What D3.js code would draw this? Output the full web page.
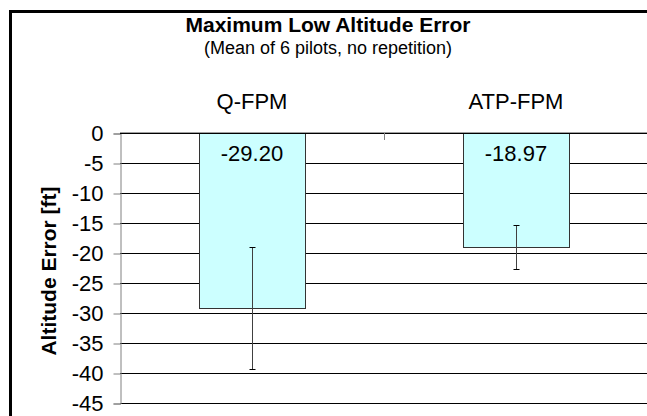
<!DOCTYPE html>
<html>
<head>
<meta charset="utf-8">
<script src="https://cdn.jsdelivr.net/npm/d3@7"></script>
<style>
  html, body { margin: 0; padding: 0; background: #fff; }
  svg { display: block; font-family: Arial, "Liberation Sans", sans-serif; }
</style>
</head>
<body>
<svg id="chart" width="647" height="416"></svg>
<script>
const categories = ["Q-FPM", "ATP-FPM"];
const means = [-29.20, -18.97];
const errors = [10.2, 3.65];
const yTicks = [0, -5, -10, -15, -20, -25, -30, -35, -40, -45];
const titleText = "Maximum Low Altitude Error";
const subtitleText = "(Mean of 6 pilots, no repetition)";
const yAxisTitle = "Altitude Error [ft]";

const svg = d3.select("#chart");
const W = 647, H = 416;
const plot = { left: 120, right: 648, top: 133, bottom: 403 };

const y = d3.scaleLinear().domain([-45, 0]).range([plot.bottom, plot.top]);
const x = d3.scaleBand().domain(categories).range([plot.left, plot.right])
  .paddingInner(0.6).paddingOuter(0.3);
const xc = d3.scalePoint().domain(categories).range([plot.left, plot.right]).padding(0.5);

// outer border (left + top visible)
svg.append("rect").attr("x", 10.5).attr("y", 11.5)
  .attr("width", W + 20).attr("height", H + 20)
  .attr("fill", "#fff").attr("stroke", "#000").attr("stroke-width", 3);

// title
svg.append("text").attr("x", 328).attr("y", 32).attr("text-anchor", "middle")
  .attr("font-size", 21).attr("font-weight", "bold").attr("fill", "#000").text(titleText);
svg.append("text").attr("x", 328).attr("y", 54).attr("text-anchor", "middle")
  .attr("font-size", 18).attr("fill", "#000").text(subtitleText);

// gridlines
svg.append("g").selectAll("line").data(yTicks.filter(d => d !== 0)).join("line")
  .attr("x1", plot.left).attr("x2", plot.right)
  .attr("y1", d => Math.round(y(d)) + 0.5).attr("y2", d => Math.round(y(d)) + 0.5)
  .attr("stroke", "#000").attr("stroke-width", 1);

// y axis
const yAxis = d3.axisLeft(y).tickValues(yTicks).tickSize(7).tickPadding(10).tickFormat(d => String(d));
const gy = svg.append("g").attr("transform", `translate(${plot.left + 0.5},0.5)`).call(yAxis);
gy.select(".domain").attr("stroke", "#808080");
gy.selectAll(".tick line").attr("stroke", "#808080");
gy.selectAll(".tick text").attr("font-size", 22).attr("fill", "#000")
  .attr("font-family", "Arial, 'Liberation Sans', sans-serif");

// bars
svg.append("g").selectAll("rect").data(categories).join("rect")
  .attr("x", d => Math.round(x(d)) + 0.5)
  .attr("y", y(0) + 0.5)
  .attr("width", Math.round(x.bandwidth()))
  .attr("height", (d, i) => Math.round(y(means[i]) - y(0)))
  .attr("fill", "#CCFFFF").attr("stroke", "#333333").attr("stroke-width", 1);

// zero line (category axis on top)
svg.append("line").attr("x1", plot.left).attr("x2", plot.right)
  .attr("y1", y(0) - 0.5).attr("y2", y(0) - 0.5).attr("stroke", "#a0a0a0");
svg.append("line").attr("x1", plot.left).attr("x2", plot.right)
  .attr("y1", y(0) + 0.5).attr("y2", y(0) + 0.5).attr("stroke", "#000");
// category separator tick
svg.append("line").attr("x1", (xc(categories[0]) + xc(categories[1])) / 2 + 0.5)
  .attr("x2", (xc(categories[0]) + xc(categories[1])) / 2 + 0.5)
  .attr("y1", y(0)).attr("y2", y(0) + 7).attr("stroke", "#808080").attr("stroke-width", 1);

// category labels
svg.append("g").selectAll("text").data(categories).join("text")
  .attr("x", d => xc(d)).attr("y", 109).attr("text-anchor", "middle")
  .attr("font-size", 22).attr("fill", "#000").text(d => d);

// value labels
svg.append("g").selectAll("text").data(categories).join("text")
  .attr("x", d => xc(d)).attr("y", 161).attr("text-anchor", "middle")
  .attr("font-size", 22).attr("fill", "#000").text((d, i) => means[i].toFixed(2));

// error bars
const eb = svg.append("g").attr("stroke", "#404040").attr("stroke-width", 1);
categories.forEach((c, i) => {
  const cx = Math.round(xc(c)) + 0.5;
  const yt = Math.round(y(means[i] + errors[i])) + 0.5;
  const yb = Math.round(y(means[i] - errors[i])) + 0.5;
  eb.append("line").attr("x1", cx).attr("x2", cx).attr("y1", yt).attr("y2", yb);
  eb.append("line").attr("x1", cx - 3).attr("x2", cx + 3).attr("y1", yt).attr("y2", yt).attr("stroke", "#000");
  eb.append("line").attr("x1", cx - 3).attr("x2", cx + 3).attr("y1", yb).attr("y2", yb).attr("stroke", "#000");
});

// y axis title
svg.append("text").attr("transform", `translate(56,${(plot.top + plot.bottom) / 2 + 3}) rotate(-90)`)
  .attr("text-anchor", "middle").attr("font-size", 21).attr("font-weight", "bold")
  .attr("fill", "#000").text(yAxisTitle);
</script>
</body>
</html>
